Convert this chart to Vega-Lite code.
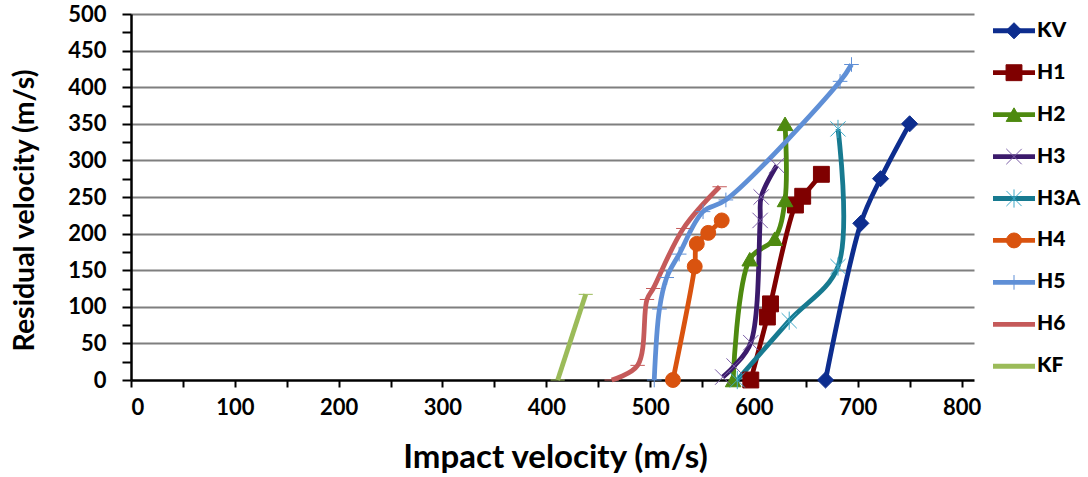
{
  "$schema": "https://vega.github.io/schema/vega-lite/v6.json",
  "background": "white",
  "padding": {"left": 10, "top": 3, "right": 0, "bottom": 0},
  "config": {
    "font": "Lato",
    "view": {"stroke": null},
    "concat": {"spacing": 9},
    "axis": {"labelFont": "Lato", "titleFont": "Lato", "labelColor": "black", "titleColor": "black", "labelFontWeight": "bold", "titleFontWeight": "bold", "labelOverlap": false, "labelSeparation": -20},
    "axisY": {"labelOverlap": false},
    "axisQuantitative": {"labelOverlap": false}
  },
  "datasets": {
    "pts": [
      {"s": "KV", "i": 0, "x": 669, "y": 0},
      {"s": "KV", "i": 1, "x": 703, "y": 214},
      {"s": "KV", "i": 2, "x": 722, "y": 275},
      {"s": "KV", "i": 3, "x": 750, "y": 350},
      {"s": "H1", "i": 0, "x": 597, "y": 0},
      {"s": "H1", "i": 1, "x": 613, "y": 86},
      {"s": "H1", "i": 2, "x": 616, "y": 104},
      {"s": "H1", "i": 3, "x": 640, "y": 239},
      {"s": "H1", "i": 4, "x": 647, "y": 251},
      {"s": "H1", "i": 5, "x": 665, "y": 281},
      {"s": "H2", "i": 0, "x": 580, "y": 0},
      {"s": "H2", "i": 1, "x": 596, "y": 165},
      {"s": "H2", "i": 2, "x": 620, "y": 193},
      {"s": "H2", "i": 3, "x": 630, "y": 246},
      {"s": "H2", "i": 4, "x": 630, "y": 350},
      {"s": "H3", "i": 0, "x": 570, "y": 4},
      {"s": "H3", "i": 1, "x": 581, "y": 19},
      {"s": "H3", "i": 2, "x": 597, "y": 51},
      {"s": "H3", "i": 3, "x": 606, "y": 218},
      {"s": "H3", "i": 4, "x": 607, "y": 250},
      {"s": "H3", "i": 5, "x": 622, "y": 293},
      {"s": "H3A", "i": 0, "x": 584, "y": 0},
      {"s": "H3A", "i": 1, "x": 634, "y": 81},
      {"s": "H3A", "i": 2, "x": 681, "y": 155},
      {"s": "H3A", "i": 3, "x": 681, "y": 343},
      {"s": "H4", "i": 0, "x": 522, "y": 0},
      {"s": "H4", "i": 1, "x": 543, "y": 155},
      {"s": "H4", "i": 2, "x": 545, "y": 186},
      {"s": "H4", "i": 3, "x": 556, "y": 201},
      {"s": "H4", "i": 4, "x": 569, "y": 218},
      {"s": "H5", "i": 0, "x": 504, "y": 0},
      {"s": "H5", "i": 1, "x": 509, "y": 97},
      {"s": "H5", "i": 2, "x": 516, "y": 140},
      {"s": "H5", "i": 3, "x": 528, "y": 172},
      {"s": "H5", "i": 4, "x": 551, "y": 230},
      {"s": "H5", "i": 5, "x": 573, "y": 246},
      {"s": "H5", "i": 6, "x": 683, "y": 408},
      {"s": "H5", "i": 7, "x": 694, "y": 431},
      {"s": "H6", "i": 0, "x": 463, "y": 0},
      {"s": "H6", "i": 1, "x": 488, "y": 20},
      {"s": "H6", "i": 2, "x": 497, "y": 110},
      {"s": "H6", "i": 3, "x": 503, "y": 125},
      {"s": "H6", "i": 4, "x": 532, "y": 207},
      {"s": "H6", "i": 5, "x": 567, "y": 264},
      {"s": "KF", "i": 0, "x": 411, "y": 0},
      {"s": "KF", "i": 1, "x": 438, "y": 117}
    ],
    "leg": [
      {"s": "KV"}, {"s": "H1"}, {"s": "H2"}, {"s": "H3"}, {"s": "H3A"},
      {"s": "H4"}, {"s": "H5"}, {"s": "H6"}, {"s": "KF"}
    ]
  },
  "hconcat": [
    {
      "width": 843,
      "height": 366,
      "data": {"name": "pts"},
      "encoding": {
        "x": {
          "field": "x", "type": "quantitative",
          "scale": {"domain": [0, 812], "nice": false},
          "title": "Impact velocity (m/s)",
          "axis": {
            "values": [0, 50, 100, 150, 200, 250, 300, 350, 400, 450, 500, 550, 600, 650, 700, 750, 800],
            "labelExpr": "datum.value % 100 == 0 ? datum.label : ''",
            "labelOverlap": false,
            "grid": false,
            "domainColor": "black", "domainWidth": 2.5,
            "tickColor": "black", "tickWidth": 2, "tickSize": 7,
            "labelFontSize": 22, "labelPadding": 10,
            "titleFontSize": 33, "titlePadding": 23, "titleX": 424
          }
        },
        "y": {
          "field": "y", "type": "quantitative",
          "scale": {"domain": [0, 500], "nice": false},
          "title": "Residual velocity (m/s)",
          "axis": {
            "values": [0, 25, 50, 75, 100, 125, 150, 175, 200, 225, 250, 275, 300, 325, 350, 375, 400, 425, 450, 475, 500],
            "labelExpr": "datum.value % 50 == 0 ? datum.label : ''",
            "labelOverlap": false,
            "labelSeparation": -20,
            "labelBound": false,
            "grid": true, "gridColor": "#7F7F7F", "gridWidth": 1.8,
            "gridOpacity": {"condition": {"test": "datum.value % 50 == 0 && datum.value > 0", "value": 1}, "value": 0},
            "domainColor": "black", "domainWidth": 2.5,
            "tickColor": "black", "tickWidth": 2, "tickSize": 9,
            "labelFontSize": 22, "labelPadding": 16,
            "titleFontSize": 28.5, "titlePadding": 28, "titleY": 196
          }
        }
      },
      "layer": [
        {
          "mark": {"type": "line", "interpolate": "catmull-rom", "strokeWidth": 4.8},
          "encoding": {
            "color": {
              "field": "s", "type": "nominal",
              "scale": {
                "domain": ["KV", "H1", "H2", "H3", "H3A", "H4", "H5", "H6", "KF"],
                "range": ["#0D2D8E", "#7F0000", "#4E8A10", "#3B1A6B", "#177A90", "#D9530F", "#5F8FD6", "#C55A5A", "#9BBB59"]
              },
              "legend": null
            },
            "order": {"field": "i", "type": "quantitative"}
          }
        },
        {
          "mark": {"type": "point", "filled": true, "opacity": 1, "fillOpacity": 1, "strokeOpacity": 1},
          "encoding": {
            "shape": {
              "field": "s", "type": "nominal",
              "scale": {
                "domain": ["KV", "H1", "H2", "H3", "H3A", "H4", "H5", "H6", "KF"],
                "range": ["diamond", "square", "triangle-up", "M-1,-1L1,1M-1,1L1,-1", "M-1,-1L1,1M-1,1L1,-1M0,-1.2L0,1.2", "circle", "M-1,0H1M0,-1V1", "M-1,0H1", "M-1,0H1"]
              },
              "legend": null
            },
            "fill": {
              "field": "s", "type": "nominal",
              "scale": {
                "domain": ["KV", "H1", "H2", "H3", "H3A", "H4", "H5", "H6", "KF"],
                "range": ["#0D2D8E", "#7F0000", "#4E8A10", "#3B1A6B", "#177A90", "#D9530F", "#5F8FD6", "#C55A5A", "#9BBB59"]
              },
              "legend": null
            },
            "stroke": {
              "field": "s", "type": "nominal",
              "scale": {
                "domain": ["KV", "H1", "H2", "H3", "H3A", "H4", "H5", "H6", "KF"],
                "range": ["#0D2D8E", "#7F0000", "#4E8A10", "#7B5EA7", "#3FA9C8", "#D9530F", "#5F8FD6", "#C55A5A", "#9BBB59"]
              },
              "legend": null
            },
            "size": {
              "field": "s", "type": "ordinal",
              "scale": {
                "domain": ["KV", "H1", "H2", "H3", "H3A", "H4", "H5", "H6", "KF"],
                "range": [260, 200, 210, 200, 240, 210, 300, 60, 240]
              },
              "legend": null
            },
            "strokeWidth": {
              "field": "s", "type": "ordinal",
              "scale": {
                "domain": ["KV", "H1", "H2", "H3", "H3A", "H4", "H5", "H6", "KF"],
                "range": [1, 1, 1, 1.6, 1.6, 1, 2, 2.5, 3.5]
              },
              "legend": null
            }
          }
        }
      ]
    },
    {
      "width": 95,
      "height": 369,
      "data": {"name": "leg"},
      "layer": [
        {
          "mark": {"type": "rule", "strokeWidth": 4.8},
          "encoding": {
            "x": {"datum": 0, "type": "quantitative", "scale": {"domain": [0, 95], "nice": false}, "axis": null},
            "x2": {"datum": 42},
            "y": {"field": "s", "type": "nominal", "scale": {"type": "point", "domain": ["KV", "H1", "H2", "H3", "H3A", "H4", "H5", "H6", "KF"], "padding": 0.4}, "axis": null},
            "color": {
              "field": "s", "type": "nominal",
              "scale": {
                "domain": ["KV", "H1", "H2", "H3", "H3A", "H4", "H5", "H6", "KF"],
                "range": ["#0D2D8E", "#7F0000", "#4E8A10", "#3B1A6B", "#177A90", "#D9530F", "#5F8FD6", "#C55A5A", "#9BBB59"]
              },
              "legend": null
            }
          }
        },
        {
          "mark": {"type": "point", "filled": true, "opacity": 1, "fillOpacity": 1, "strokeOpacity": 1},
          "encoding": {
            "x": {"datum": 21, "type": "quantitative"},
            "y": {"field": "s", "type": "nominal"},
            "shape": {"field": "s", "type": "nominal", "legend": null},
            "fill": {"field": "s", "type": "nominal", "legend": null},
            "stroke": {"field": "s", "type": "nominal", "legend": null},
            "size": {"field": "s", "type": "ordinal", "legend": null},
            "strokeWidth": {"field": "s", "type": "ordinal", "legend": null}
          }
        },
        {
          "mark": {"type": "text", "align": "left", "baseline": "middle", "font": "Lato", "fontSize": 21, "fontWeight": 900, "color": "black"},
          "encoding": {
            "x": {"datum": 44, "type": "quantitative"},
            "y": {"field": "s", "type": "nominal"},
            "text": {"field": "s", "type": "nominal"}
          }
        }
      ]
    }
  ]
}
